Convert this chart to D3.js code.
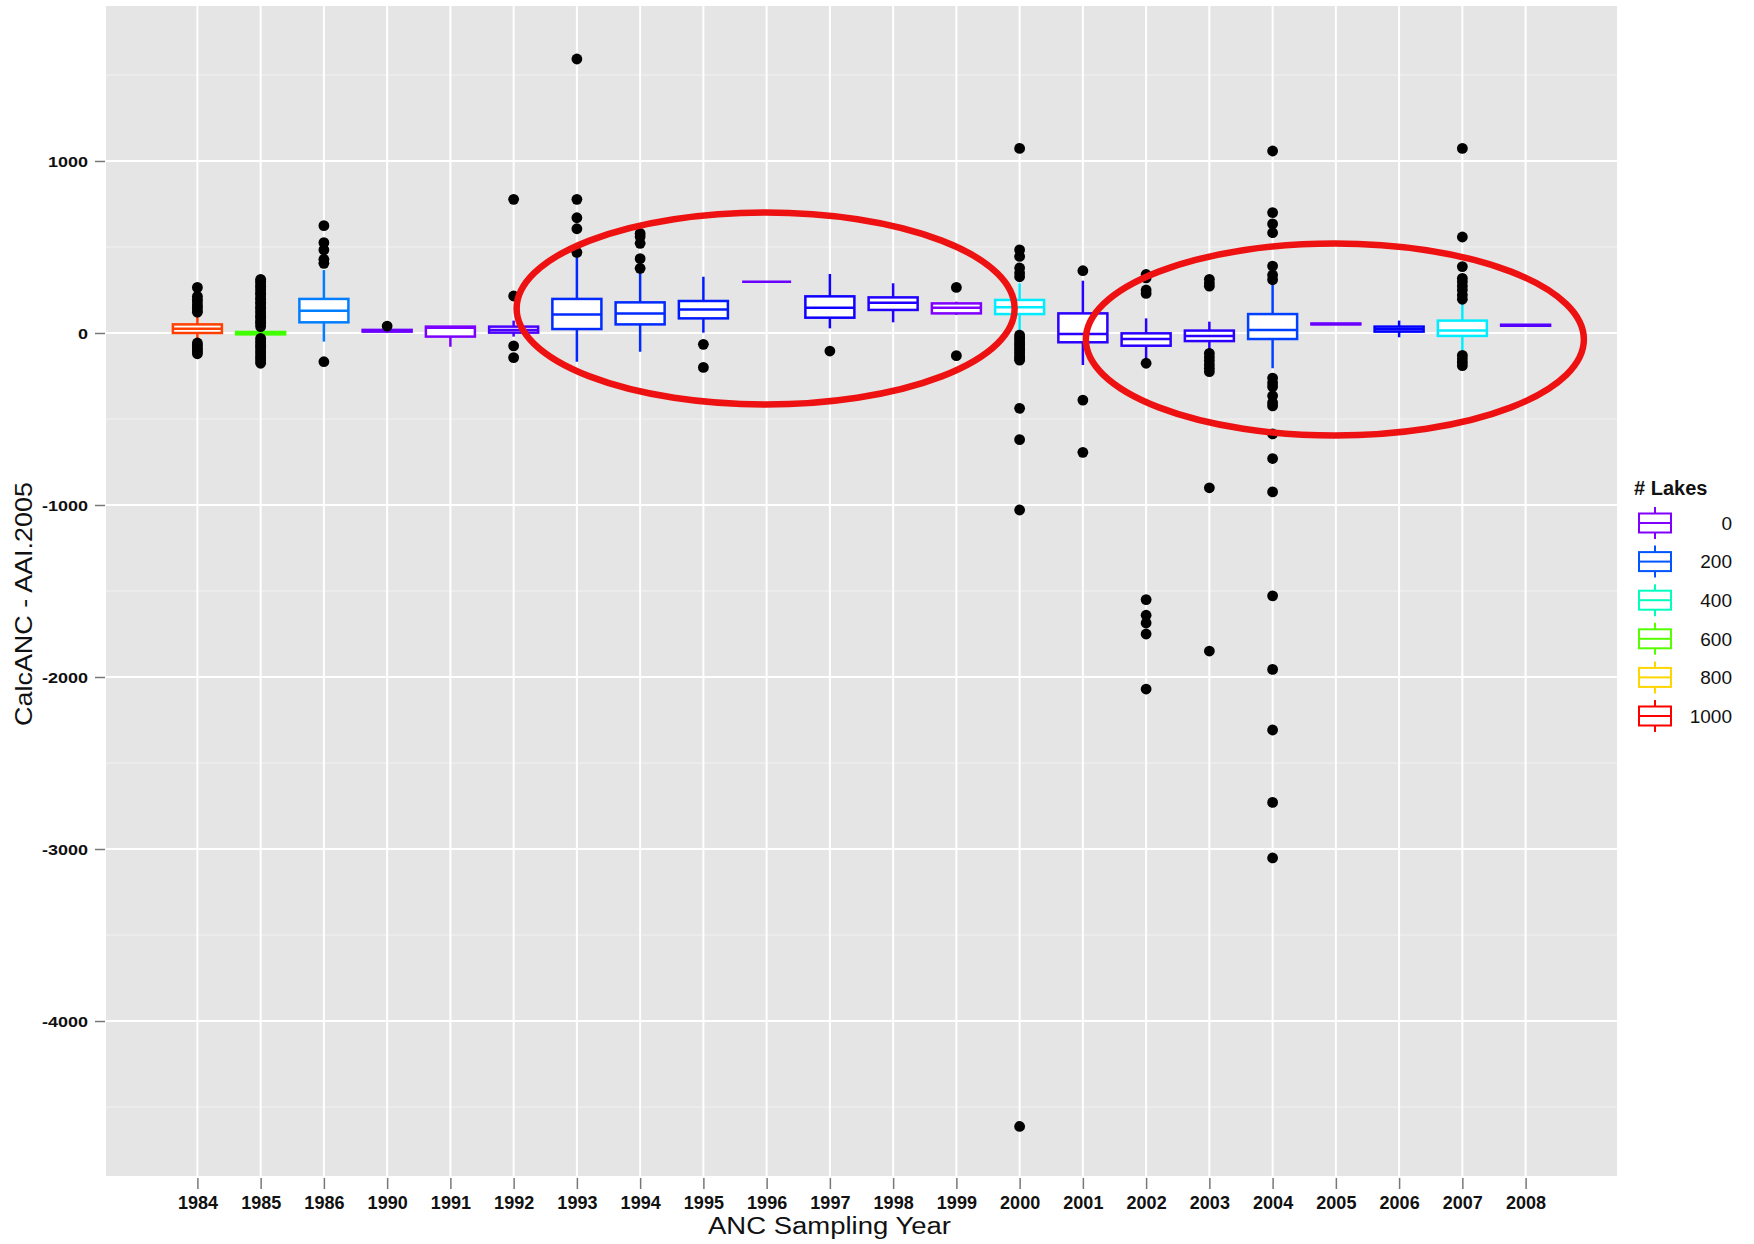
<!DOCTYPE html>
<html>
<head>
<meta charset="utf-8">
<script src="https://cdn.jsdelivr.net/npm/d3@7"></script>
<style>
  html, body { margin: 0; padding: 0; background: #ffffff; }
  svg { display: block; }
  text { font-family: "Liberation Sans", Arial, Helvetica, sans-serif; }
</style>
</head>
<body>
<svg id="chart" width="1754" height="1244"></svg>
<script>
// ---------------- data ----------------
const years = ["1984","1985","1986","1990","1991","1992","1993","1994","1995","1996","1997",
               "1998","1999","2000","2001","2002","2003","2004","2005","2006","2007","2008"];
const lakes = [940, 585, 235, 20, 5, 50, 160, 160, 145, 20, 105, 90, 0, 330, 80, 80, 80, 180, 20, 120, 330, 40];
const q1     = [0, -8, 62, 8, -21, 2, 23, 50, 85, 298, 89, 134, 114, 110, -54, -74, -47, -35, 50, 8, -17, 42];
const median = [25, 0, 130, 12, 30, 17, 108, 114, 137, 298, 147, 176, 147, 149, -6, -35, -17, 17, 52, 22, 14, 45];
const q3     = [50, 6, 198, 18, 37, 37, 198, 178, 186, 298, 213, 207, 172, 192, 114, -2, 14, 110, 55, 37, 72, 48];
const whiskerLow  = [-50, -20, -50, 8, -80, -21, -167, -109, 2, 298, 27, 62, 105, 0, -186, -147, -99, -205, 50, -25, -99, 42];
const whiskerHigh = [116, 20, 366, 18, 37, 72, 455, 357, 327, 298, 343, 289, 182, 289, 304, 85, 66, 308, 55, 72, 172, 48];
const outliers = [
  [265, 213, 196, 181, 163, 149, 133, 121, -58, -71, -86, -97, -109, -121],
  [312, 301, 287, 271, 262, 247, 231, 222, 205, 196, 179, 170, 153, 144, 128, 117, 101, 92, 76, 63, 52, 37, -31, -46, -57, -72, -83, -98, -111, -122, -137, -148, -163, -176],
  [624, 525, 483, 428, 405, -167],
  [40],
  [],
  [777, 215, -75, -143],
  [1593, 777, 670, 606, 469],
  [579, 560, 521, 432, 376],
  [-66, -200],
  [],
  [-105],
  [],
  [265, -132],
  [1073, 483, 445, 378, 349, 327, -12, -26, -39, -56, -67, -81, -94, -109, -121, -136, -149, -158, -438, -620, -1029, -4613],
  [362, -390, -694],
  [340, 320, 250, 230, -176, -1550, -1641, -1686, -1750, -2070],
  [312, 290, 272, -118, -140, -162, -185, -205, -225, -900, -1849],
  [1058, 700, 634, 583, 389, 337, 310, -262, -290, -312, -365, -405, -424, -587, -730, -924, -1528, -1956, -2308, -2729, -3052],
  [],
  [],
  [1073, 558, 386, 318, 298, 273, 250, 221, 196, -130, -150, -170, -190],
  []
];
const yTicks = [1000, 0, -1000, -2000, -3000, -4000];
const yMinor = [1500, 500, -500, -1500, -2500, -3500, -4500];
const legendValues = [0, 200, 400, 600, 800, 1000];
const legendColors = ["#8000ff", "#0055ff", "#00ffbf", "#55ff00", "#ffd500", "#ff0000"];
const highlightGroups = [["1993", "1999"], ["2002", "2008"]];

// ---------------- layout ----------------
const svg = d3.select("#chart");
const panel = { left: 106, right: 1617, top: 6, bottom: 1176 };

const x = d3.scalePoint().domain(years).range([panel.left, panel.right]).padding(1.445);
const y = d3.scaleLinear().domain([-4901, 1901]).range([panel.bottom, panel.top]);
const color = d3.scaleLinear().domain(legendValues).range(legendColors).interpolate(d3.interpolateHsl);
const boxW = x.step() * 0.775;

// panel background
svg.append("rect")
  .attr("x", panel.left).attr("y", panel.top)
  .attr("width", panel.right - panel.left).attr("height", panel.bottom - panel.top)
  .attr("fill", "#e5e5e5");

// minor grid
svg.append("g").selectAll("line").data(yMinor).join("line")
  .attr("x1", panel.left).attr("x2", panel.right)
  .attr("y1", d => y(d)).attr("y2", d => y(d))
  .attr("stroke", "#f2f2f2").attr("stroke-width", 1);

// major grid
svg.append("g").selectAll("line").data(yTicks).join("line")
  .attr("x1", panel.left).attr("x2", panel.right)
  .attr("y1", d => y(d)).attr("y2", d => y(d))
  .attr("stroke", "#ffffff").attr("stroke-width", 2);
svg.append("g").selectAll("line").data(years).join("line")
  .attr("x1", d => x(d)).attr("x2", d => x(d))
  .attr("y1", panel.top).attr("y2", panel.bottom)
  .attr("stroke", "#ffffff").attr("stroke-width", 2);

// axes
const xAxis = d3.axisBottom(x).tickSize(11).tickPadding(8);
const gx = svg.append("g").attr("transform", `translate(0,${panel.bottom + 2})`).call(xAxis);
gx.select(".domain").remove();
gx.selectAll(".tick line").attr("stroke", "#777").attr("stroke-width", 1.5);
gx.selectAll(".tick text")
  .attr("font-size", 18).attr("font-weight", "bold").attr("fill", "#111")
  .attr("dy", "0.66em");

const yAxis = d3.axisLeft(y).tickValues(yTicks).tickSize(10).tickFormat(d => String(d));
const gy = svg.append("g").attr("transform", `translate(${panel.left - 1},0)`).call(yAxis);
gy.select(".domain").remove();
gy.selectAll(".tick line").attr("stroke", "#777").attr("stroke-width", 1.5);
gy.selectAll(".tick text")
  .attr("x", 0).attr("dy", "0.36em")
  .attr("font-size", 15).attr("font-weight", "bold").attr("fill", "#111")
  .attr("transform", "translate(-17,0) scale(1.2,1)");

// axis titles
svg.append("text")
  .attr("x", 829.5).attr("y", 1234)
  .attr("text-anchor", "middle")
  .attr("font-size", 23).attr("fill", "#111")
  .attr("textLength", 243).attr("lengthAdjust", "spacingAndGlyphs")
  .text("ANC Sampling Year");
svg.append("text")
  .attr("transform", "translate(32,604) rotate(-90)")
  .attr("text-anchor", "middle")
  .attr("font-size", 24).attr("fill", "#111")
  .attr("textLength", 244).attr("lengthAdjust", "spacingAndGlyphs")
  .text("CalcANC - AAI.2005");

// ---------------- boxplots ----------------
const boxes = years.map((yr, i) => ({
  yr, n: lakes[i], q1: q1[i], med: median[i], q3: q3[i],
  lo: whiskerLow[i], hi: whiskerHigh[i], out: outliers[i]
}));

const g = svg.append("g");
const bg = g.selectAll("g.box").data(boxes).join("g").attr("class", "box");
bg.append("line")
  .attr("x1", d => x(d.yr)).attr("x2", d => x(d.yr))
  .attr("y1", d => y(d.hi)).attr("y2", d => y(d.q3))
  .attr("stroke", d => color(d.n)).attr("stroke-width", 2.5);
bg.append("line")
  .attr("x1", d => x(d.yr)).attr("x2", d => x(d.yr))
  .attr("y1", d => y(d.q1)).attr("y2", d => y(d.lo))
  .attr("stroke", d => color(d.n)).attr("stroke-width", 2.5);
bg.append("rect")
  .attr("x", d => x(d.yr) - boxW / 2).attr("width", boxW)
  .attr("y", d => y(d.q3)).attr("height", d => y(d.q1) - y(d.q3))
  .attr("fill", "#ffffff")
  .attr("stroke", d => color(d.n)).attr("stroke-width", 2.5);
bg.append("line")
  .attr("x1", d => x(d.yr) - boxW / 2).attr("x2", d => x(d.yr) + boxW / 2)
  .attr("y1", d => y(d.med)).attr("y2", d => y(d.med))
  .attr("stroke", d => color(d.n)).attr("stroke-width", 2.5);
bg.selectAll("circle").data(d => d.out.map(v => ({ yr: d.yr, v }))).join("circle")
  .attr("cx", d => x(d.yr)).attr("cy", d => y(d.v))
  .attr("r", 5.4).attr("fill", "#000");

// ---------------- legend ----------------
const lg = svg.append("g");
lg.append("text")
  .attr("x", 1634).attr("y", 495)
  .attr("font-size", 20).attr("font-weight", "bold").attr("fill", "#111")
  .text("# Lakes");
const ly = d3.scalePoint().domain(legendValues).range([523, 716]);
const keys = lg.selectAll("g.key").data(legendValues).join("g").attr("class", "key")
  .attr("transform", d => `translate(1655,${ly(d)})`);
keys.append("line").attr("x1", 0).attr("x2", 0).attr("y1", -16).attr("y2", 16)
  .attr("stroke", d => color(d)).attr("stroke-width", 2);
keys.append("rect").attr("x", -16).attr("y", -9.5).attr("width", 32).attr("height", 19)
  .attr("fill", "#fff").attr("stroke", d => color(d)).attr("stroke-width", 2);
keys.append("line").attr("x1", -16).attr("x2", 16).attr("y1", 0).attr("y2", 0)
  .attr("stroke", d => color(d)).attr("stroke-width", 2);
keys.append("text")
  .attr("x", 77).attr("y", 0).attr("dy", "0.36em")
  .attr("text-anchor", "end").attr("font-size", 19).attr("fill", "#111")
  .text(d => d);

// ---------------- highlight ellipses ----------------
svg.append("g").selectAll("ellipse").data(highlightGroups).join("ellipse")
  .attr("cx", d => (x(d[0]) + x(d[1])) / 2 - 1)
  .attr("cy", (d, i) => [308.5, 339.5][i])
  .attr("rx", 249).attr("ry", 96)
  .attr("fill", "none").attr("stroke", "#ee1111").attr("stroke-width", 6.5);
</script>
</body>
</html>
